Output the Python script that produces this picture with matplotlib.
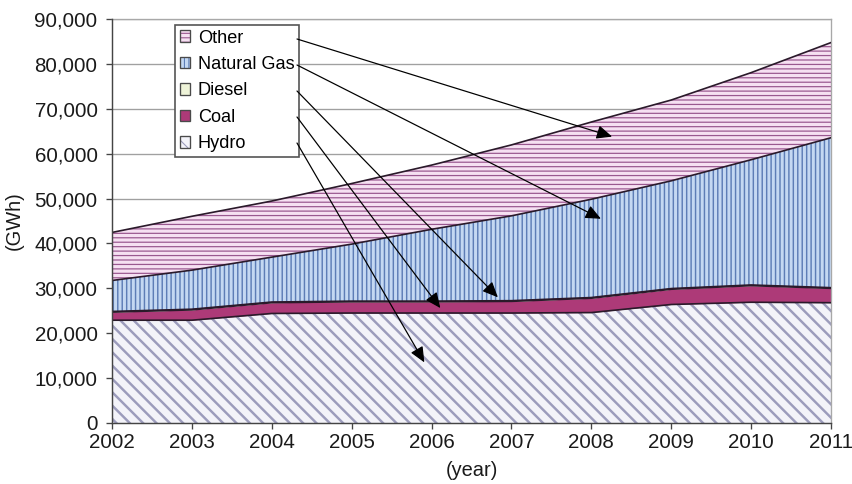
import numpy as np
import matplotlib
matplotlib.use('Agg')
import matplotlib.pyplot as plt
from matplotlib.patches import Patch
from matplotlib.legend_handler import HandlerTuple
from matplotlib.ticker import FuncFormatter

plt.rcParams['font.family'] = ['Liberation Sans', 'DejaVu Sans']

years = [2002, 2003, 2004, 2005, 2006, 2007, 2008, 2009, 2010, 2011]
hydro = [22900, 22900, 24400, 24500, 24500, 24500, 24600, 26400, 26900, 26800]
coal = [1800, 2300, 2400, 2500, 2500, 2600, 3200, 3400, 3700, 3200]
diesel = [150, 150, 150, 150, 150, 150, 150, 150, 150, 150]
natural_gas = [6900, 8700, 10000, 12700, 16000, 18900, 21900, 24000, 27900, 33400]
other = [10700, 12000, 12500, 13500, 14300, 15800, 17200, 18000, 19400, 21200]

names = ['Hydro', 'Coal', 'Diesel', 'Natural Gas', 'Other']
series = [hydro, coal, diesel, natural_gas, other]
# face colour, hatch colour, hatch, hatch linewidth
styles = [
    ('#f3f3f9', '#9c9cbc', '\\\\', 2.2),
    ('#ad3a78', '#ad3a78', None, 1.0),
    ('#eef3d8', '#c8d0a8', None, 1.0),
    ('#c4d8f2', '#5d7db6', '|||', 1.3),
    ('#f6e0f2', '#9a5890', '---', 1.1),
]

DPI = 80
fig = plt.figure(figsize=(852 / DPI, 484 / DPI), dpi=DPI)
ax = fig.add_axes([112 / 852, 1 - 423 / 484, (831 - 112) / 852, (423 - 19) / 484])

x = np.array(years)
tops = np.cumsum(np.array(series), axis=0)
bottoms = np.vstack([np.zeros(len(years)), tops[:-1]])

handles = []
for name, lo, hi, (fc, hc, hatch, hlw) in zip(names, bottoms, tops, styles):
    with plt.rc_context({'hatch.linewidth': hlw, 'hatch.color': hc}):
        poly = ax.fill_between(x, lo, hi, facecolor=fc, edgecolor=hc,
                               hatch=hatch, linewidth=0, zorder=2)
        if hasattr(poly, 'set_hatch_linewidth'):
            poly.set_hatch_linewidth(hlw)
        swatch = Patch(facecolor=fc, edgecolor=hc, hatch=hatch, linewidth=0)
        if hasattr(swatch, 'set_hatch_linewidth'):
            swatch.set_hatch_linewidth(hlw)
    frame = Patch(facecolor='none', edgecolor='#4a4a4a', linewidth=1.2)
    handles.append((swatch, frame))

# series boundaries
for hi in tops:
    ax.plot(x, hi, color='#2a1a2a', lw=1.5, zorder=3)

ax.set_xlim(2002, 2011)
ax.set_ylim(0, 90000)
ax.set_xticks(years)
ax.set_yticks(np.arange(0, 90001, 10000))
ax.yaxis.set_major_formatter(FuncFormatter(lambda v, p: f'{int(v):,}'))
ax.grid(axis='y', color='#a0a0a0', lw=1.2)
ax.set_axisbelow(True)

for s in ['left', 'bottom']:
    ax.spines[s].set_color('#444444')
    ax.spines[s].set_linewidth(1.3)
    ax.spines[s].set_zorder(4)
for s in ['top', 'right']:
    ax.spines[s].set_color('#a8a8a8')
    ax.spines[s].set_linewidth(1.2)

ax.tick_params(axis='both', direction='out', length=5, width=1.2,
               colors='#444444', labelcolor='#1a1a1a', labelsize=18.5)
ax.tick_params(axis='x', pad=4)
ax.tick_params(axis='y', pad=8)

ax.set_ylabel('(GWh)', fontsize=18, color='#1a1a1a', labelpad=10)
ax.set_xlabel('(year)', fontsize=18, color='#1a1a1a', labelpad=8)

leg = ax.legend([handles[i] for i in range(4, -1, -1)], names[::-1],
                handler_map={tuple: HandlerTuple(ndivide=1, pad=0)},
                loc='upper left', bbox_to_anchor=(175 / 852, 1 - 25 / 484),
                bbox_transform=fig.transFigure, borderaxespad=0,
                fontsize=16.3, handlelength=0.6, handleheight=0.6,
                handletextpad=0.4, labelspacing=0.52, borderpad=0.25,
                fancybox=False, framealpha=1, edgecolor='#555555')
leg.get_frame().set_linewidth(1.5)
leg.set_zorder(6)

# arrows from the legend entries into the areas they name
starts = [(297, 39), (297, 65), (297, 91), (297, 117), (297, 143)]
targets = [(2008.26, 63800), (2008.12, 45500), (2006.83, 28000),
           (2006.11, 25600), (2005.91, 13500)]
for (sx, sy), tgt in zip(starts, targets):
    ax.annotate('', xy=tgt, xycoords='data',
                xytext=(sx, 484 - sy), textcoords='figure pixels',
                arrowprops=dict(arrowstyle='-|>,head_length=0.45,head_width=0.2',
                                color='black', lw=1.1, mutation_scale=26,
                                shrinkA=0, shrinkB=0),
                zorder=7)

fig.savefig('out.png', dpi=DPI)
